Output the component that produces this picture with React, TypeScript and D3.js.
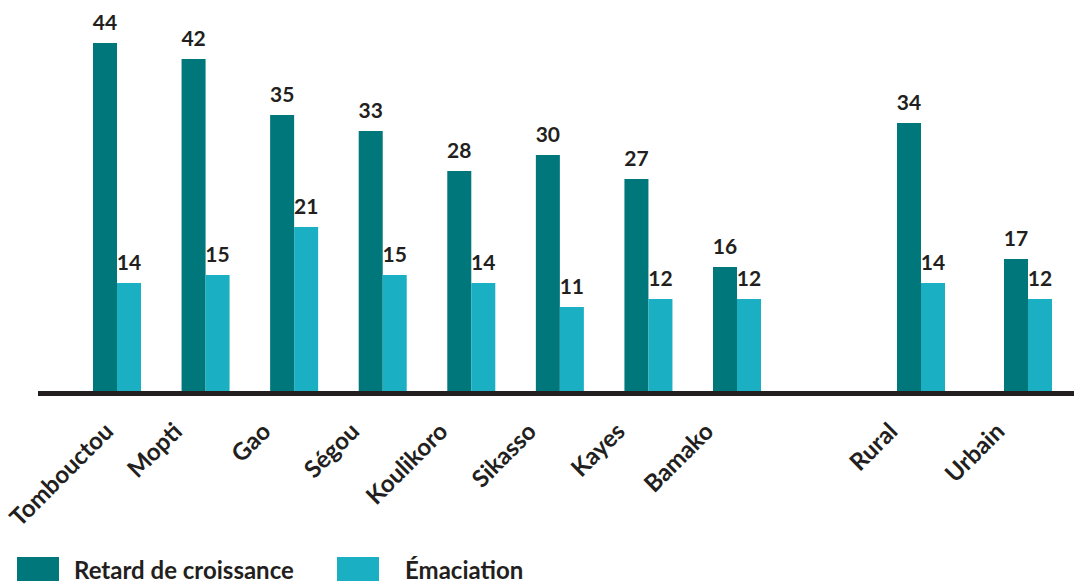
import React, { useEffect, useRef } from "react";
import * as d3 from "d3";

const regions = ["Tombouctou", "Mopti", "Gao", "Ségou", "Koulikoro", "Sikasso", "Kayes", "Bamako"];
const milieux = ["Rural", "Urbain"];
const seriesNames = ["Retard de croissance", "Émaciation"];
const retardRegions = [44, 42, 35, 33, 28, 30, 27, 16];
const emaciationRegions = [14, 15, 21, 15, 14, 11, 12, 12];
const retardMilieu = [34, 17];
const emaciationMilieu = [14, 12];

const COLORS = ["#00777a", "#1aafc2"];
const TEXT = "#231f20";
const FONT = "Lato, 'Open Sans', sans-serif";

export default function App() {
  const ref = useRef<SVGSVGElement | null>(null);

  useEffect(() => {
    const svg = d3.select(ref.current);
    svg.selectAll("*").remove();

    const xRegion = d3.scaleBand<string>().domain(regions).range([48.7, 805.3]).paddingInner(0.458).paddingOuter(0.5);
    const xMilieu = d3.scaleBand<string>().domain(milieux).range([897, 1052]).paddingInner(0.5514).paddingOuter(0);
    const bw = xRegion.bandwidth();
    const xSeries = d3.scaleBand<string>().domain(seriesNames).range([0, bw]);
    const y = d3.scaleLinear().domain([0, 44]).range([395, 43]);

    const rows = [
      ...regions.map((c, i) => ({ name: c, x0: xRegion(c) as number, values: [retardRegions[i], emaciationRegions[i]] })),
      ...milieux.map((c, i) => ({ name: c, x0: xMilieu(c) as number, values: [retardMilieu[i], emaciationMilieu[i]] })),
    ];

    const groups = svg.selectAll("g.grp").data(rows).enter().append("g").attr("class", "grp")
      .attr("transform", (d) => `translate(${d.x0},0)`);

    groups.selectAll("rect").data((d) => d.values.map((v, j) => ({ v, s: seriesNames[j], j })))
      .enter().append("rect")
      .attr("x", (d) => xSeries(d.s) as number)
      .attr("width", xSeries.bandwidth())
      .attr("y", (d) => y(d.v))
      .attr("height", (d) => y(0) - y(d.v))
      .attr("fill", (d) => COLORS[d.j]);

    groups.selectAll("text.val").data((d) => d.values.map((v, j) => ({ v, s: seriesNames[j] })))
      .enter().append("text").attr("class", "val")
      .attr("x", (d) => (xSeries(d.s) as number) + xSeries.bandwidth() / 2)
      .attr("y", (d) => y(d.v) - 13)
      .attr("text-anchor", "middle")
      .attr("font-family", FONT).attr("font-weight", 700).attr("font-size", 21)
      .attr("fill", TEXT)
      .text((d) => String(d.v));

    // axis line
    svg.append("line").attr("x1", 38).attr("x2", 1074).attr("y1", 393.5).attr("y2", 393.5)
      .attr("stroke", TEXT).attr("stroke-width", 5);

    // category labels
    rows.forEach((r) => {
      const t = svg.append("text")
        .attr("font-family", FONT).attr("font-weight", 700).attr("font-size", 24)
        .attr("fill", TEXT).attr("text-anchor", "end").text(r.name);
      const len = (t.node() as SVGTextElement).getComputedTextLength();
      let endX = r.x0 + bw / 2 - 22;
      const startX = endX - len * Math.SQRT1_2;
      if (startX < 20) endX += 20 - startX;
      t.attr("transform", `translate(${endX},433) rotate(-45)`);
    });

    // legend
    const legRect = [17, 337];
    const legText = [74, 405];
    seriesNames.forEach((s, i) => {
      svg.append("rect").attr("x", legRect[i]).attr("y", 557).attr("width", 42).attr("height", 30).attr("fill", COLORS[i]);
      svg.append("text").attr("x", legText[i]).attr("y", 579)
        .attr("font-family", FONT).attr("font-weight", 700).attr("font-size", 24)
        .attr("fill", TEXT).text(s);
    });
  }, []);

  return (
    <svg ref={ref} width={1074} height={581} style={{ position: "absolute", left: 0, top: 0, background: "#fff" }} />
  );
}
